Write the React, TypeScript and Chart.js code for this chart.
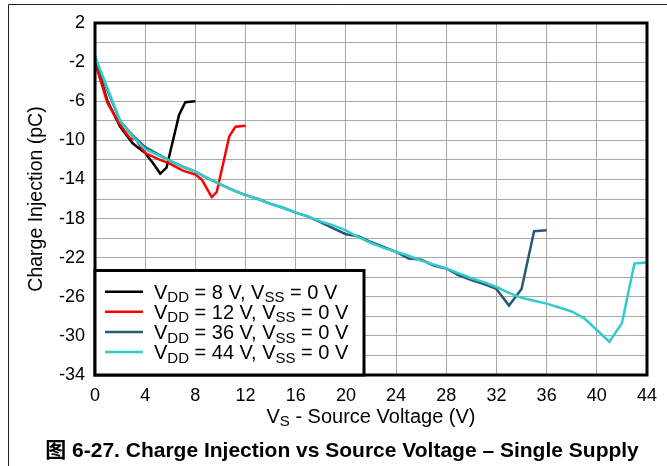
import React, { useEffect, useRef } from "react";
import { Chart, registerables } from "chart.js";

Chart.register(...registerables);

// ---- data ----
const xBlack = [0, 1, 2, 3, 4, 4.6, 5.2, 5.7, 6.7, 7.2, 8];
const yBlack = [-1.8, -6.0, -8.6, -10.3, -11.3, -12.3, -13.4, -12.8, -7.4, -6.1, -6.0];

const xRed = [0, 1, 2, 2.8, 3.2, 4, 5, 6, 7, 8, 8.5, 9.3, 9.7, 10.7, 11.2, 12];
const yRed = [-2.0, -6.2, -8.4, -9.8, -9.8, -11.3, -11.9, -12.4, -13.1, -13.5, -14.0, -15.8, -15.3, -9.6, -8.6, -8.5];

const xBlue = [0, 1, 2, 3, 4, 5, 6, 7, 8, 9, 10, 11, 12, 13, 14, 15, 16, 17, 18, 19, 20, 21, 22, 23, 24, 25, 26, 27, 28, 29, 30, 31, 32, 33, 34, 35, 36];
const yBlue = [-1.6, -4.9, -8.0, -9.5, -10.7, -11.4, -12.1, -12.7, -13.2, -13.9, -14.5, -15.1, -15.6, -16.0, -16.5, -16.9, -17.4, -17.8, -18.4, -19.0, -19.6, -19.8, -20.4, -20.9, -21.4, -22.1, -22.2, -22.8, -23.1, -23.8, -24.3, -24.7, -25.2, -26.9, -25.2, -19.3, -19.2];

const xCyan = [0, 1, 2, 3, 4, 5, 6, 7, 8, 9, 10, 11, 12, 13, 14, 15, 16, 17, 18, 19, 20, 21, 22, 23, 24, 25, 26, 27, 28, 29, 30, 31, 32, 33, 34, 35, 36, 37, 38, 39, 40, 41, 42, 43, 44];
const yCyan = [-1.4, -4.7, -8.0, -9.6, -10.9, -11.5, -12.1, -12.7, -13.2, -13.9, -14.5, -15.1, -15.6, -16.0, -16.5, -16.9, -17.4, -17.8, -18.3, -18.7, -19.2, -19.9, -20.5, -21.0, -21.4, -21.8, -22.3, -22.7, -23.1, -23.6, -24.1, -24.5, -25.0, -25.6, -26.1, -26.4, -26.7, -27.1, -27.5, -28.2, -29.4, -30.6, -28.7, -22.6, -22.5];

const seriesVdd = ["8", "12", "36", "44"];
const seriesColors = ["#000000", "#ff0000", "#265a78", "#33cccc"];

const xMin = 0;
const xMax = 44;
const xStep = 4;
const yMin = -34;
const yMax = 2;
const yStep = 2;

const xTitleMain = "V";
const xTitleSub = "S";
const xTitleRest = " - Source Voltage (V)";
const yTitle = "Charge Injection (pC)";
const figTitle = "图 6-27. Charge Injection vs Source Voltage – Single Supply";

const FONT = "'Liberation Sans', Arial, 'Noto Sans CJK SC', sans-serif";

type Part = { t: string; sub?: boolean };

function drawRich(ctx: CanvasRenderingContext2D, x: number, baseline: number, parts: Part[], size: number, subSize: number, subShift: number, measureOnly = false): number {
  let cx = x;
  for (const p of parts) {
    ctx.font = `${p.sub ? subSize : size}px ${FONT}`;
    const w = ctx.measureText(p.t).width;
    if (!measureOnly) ctx.fillText(p.t, cx, baseline + (p.sub ? subShift : 0));
    cx += w;
  }
  return cx - x;
}

const decorPlugin = {
  id: "decor",
  beforeDraw(chart: any) {
    const ctx: CanvasRenderingContext2D = chart.ctx;
    ctx.save();
    ctx.fillStyle = "#ffffff";
    ctx.fillRect(0, 0, chart.width, chart.height);
    ctx.strokeStyle = "#222222";
    ctx.lineWidth = 1;
    ctx.beginPath();
    ctx.moveTo(8.5, chart.height);
    ctx.lineTo(8.5, 4.5);
    ctx.lineTo(chart.width, 4.5);
    ctx.stroke();
    ctx.restore();
  },
  afterDraw(chart: any) {
    const ctx: CanvasRenderingContext2D = chart.ctx;
    const a = chart.chartArea;
    ctx.save();
    // plot frame
    ctx.strokeStyle = "#000000";
    ctx.lineWidth = 3;
    ctx.strokeRect(a.left, a.top, a.right - a.left, a.bottom - a.top);

    // legend box
    const lx = a.left;
    const ly = 270.5;
    const lw = 364 - a.left;
    const lh = a.bottom - ly;
    ctx.fillStyle = "#ffffff";
    ctx.fillRect(lx, ly, lw, lh);
    ctx.strokeRect(lx, ly, lw, lh);
    ctx.textAlign = "left";
    ctx.textBaseline = "alphabetic";
    const centers = [291.7, 311.8, 332, 352];
    seriesVdd.forEach((v, i) => {
      const cy = centers[i];
      ctx.strokeStyle = seriesColors[i];
      ctx.lineWidth = 2.5;
      ctx.beginPath();
      ctx.moveTo(105, cy);
      ctx.lineTo(143, cy);
      ctx.stroke();
      ctx.fillStyle = "#000000";
      drawRich(ctx, 154, cy + 7, [
        { t: "V" }, { t: "DD", sub: true }, { t: ` = ${v} V, V` }, { t: "SS", sub: true }, { t: " = 0 V" },
      ], 20, 15, 3.5);
    });

    // x axis title
    ctx.fillStyle = "#000000";
    const xParts: Part[] = [{ t: xTitleMain }, { t: xTitleSub, sub: true }, { t: xTitleRest }];
    const w = drawRich(ctx, 0, 0, xParts, 20, 15, 3, true);
    drawRich(ctx, (a.left + a.right) / 2 - w / 2, 423.3, xParts, 20, 15, 3);

    // y axis title
    ctx.save();
    ctx.translate(35, (a.top + a.bottom) / 2);
    ctx.rotate(-Math.PI / 2);
    ctx.textAlign = "center";
    ctx.font = `19.5px ${FONT}`;
    ctx.fillText(yTitle, 0, 0.358 * 19.5);
    ctx.restore();

    // figure title
    ctx.textAlign = "center";
    ctx.font = `bold 21px ${FONT}`;
    ctx.fillText(figTitle, 342, 456.5);
    ctx.restore();
  },
};

export default function App() {
  const ref = useRef<HTMLCanvasElement>(null);
  useEffect(() => {
    const mk = (xs: number[], ys: number[]) => xs.map((x, i) => ({ x, y: ys[i] }));
    const allX = [xBlack, xRed, xBlue, xCyan];
    const allY = [yBlack, yRed, yBlue, yCyan];
    const datasets = seriesVdd.map((v, i) => ({
      label: `VDD = ${v} V, VSS = 0 V`,
      data: mk(allX[i], allY[i]),
      borderColor: seriesColors[i],
      backgroundColor: seriesColors[i],
      borderWidth: 2.5,
      pointRadius: 0,
      tension: 0,
      fill: false,
      order: 3 - i,
    }));
    const chart = new Chart(ref.current as HTMLCanvasElement, {
      type: "line",
      data: { datasets },
      options: {
        responsive: false,
        animation: false,
        devicePixelRatio: 1,
        layout: { padding: { left: 0, top: 23, right: 17, bottom: 0 } },
        plugins: { legend: { display: false }, tooltip: { enabled: false }, title: { display: false } },
        scales: {
          x: {
            type: "linear",
            min: xMin,
            max: xMax,
            ticks: { stepSize: xStep, padding: 10, color: "#000", font: { size: 18, family: FONT }, maxRotation: 0, autoSkip: false },
            grid: { color: "#a8a8a8", lineWidth: 1, drawTicks: false },
            border: { display: false },
            afterFit: (s: any) => { s.height = 91; },
          },
          y: {
            type: "linear",
            min: yMin,
            max: yMax,
            ticks: {
              stepSize: yStep,
              padding: 10,
              color: "#000",
              font: { size: 18, family: FONT },
              autoSkip: false,
              callback: (v: any) => (Math.abs(2 - Number(v)) % 4 === 0 ? String(v) : ""),
            },
            grid: { color: "#a8a8a8", lineWidth: 1, drawTicks: false },
            border: { display: false },
            afterFit: (s: any) => { s.width = 95; },
          },
        },
      } as any,
      plugins: [decorPlugin],
    });
    return () => chart.destroy();
  }, []);
  return (
    <div style={{ position: "absolute", left: 0, top: 0, width: 667, height: 466 }}>
      <canvas ref={ref} width={667} height={466} style={{ display: "block", width: 667, height: 466 }} />
    </div>
  );
}
